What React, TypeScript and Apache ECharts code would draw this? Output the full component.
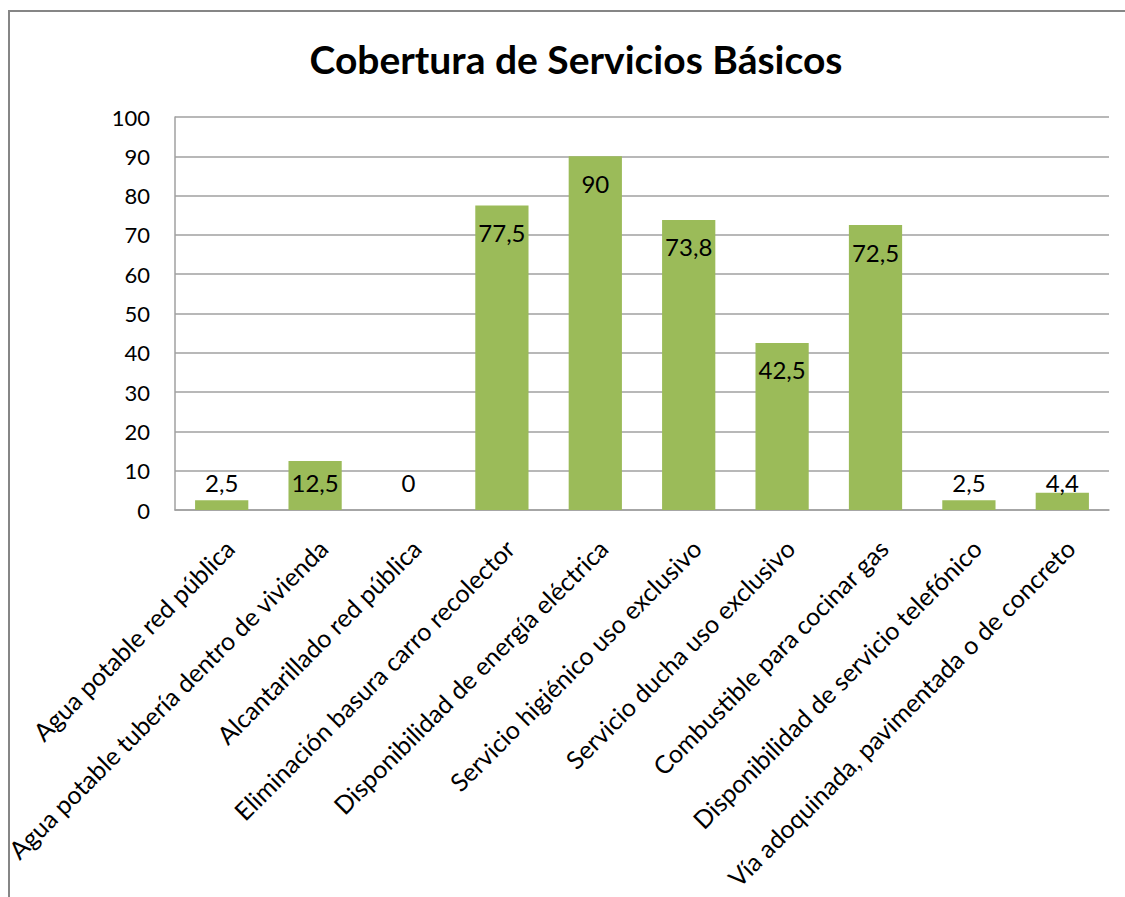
import React, { useEffect, useRef } from "react";
import * as echarts from "echarts";

const title = "Cobertura de Servicios Básicos";
const categories = [
  "Agua potable red pública",
  "Agua potable tubería dentro de vivienda",
  "Alcantarillado red pública",
  "Eliminación basura carro recolector",
  "Disponibilidad de energía eléctrica",
  "Servicio higiénico uso exclusivo",
  "Servicio ducha uso exclusivo",
  "Combustible para cocinar gas",
  "Disponibilidad de servicio telefónico",
  "Vía adoquinada, pavimentada o de concreto",
];
const values = [2.5, 12.5, 0, 77.5, 90, 73.8, 42.5, 72.5, 2.5, 4.4];
const yMin = 0;
const yMax = 100;
const yInterval = 10;

const FONT = "Lato, 'Open Sans', sans-serif";

export default function App() {
  const ref = useRef<HTMLDivElement>(null);
  useEffect(() => {
    if (!ref.current) return;
    const chart = echarts.init(ref.current, undefined, { renderer: "svg" });
    const fmt = (v: number) => String(v).replace(".", ",");
    chart.setOption({
      animation: false,
      backgroundColor: "#ffffff",
      textStyle: { fontFamily: FONT },
      title: {
        text: title,
        left: 571,
        top: 34,
        textAlign: "center",
        textStyle: { fontFamily: FONT, fontWeight: "bold", fontSize: 39, color: "#000" },
      },
      graphic: [
        {
          type: "rect",
          shape: { x: 9, y: 11, width: 1300, height: 1000 },
          style: { fill: "none", stroke: "#868686", lineWidth: 2 },
          silent: true,
        },
      ],
      grid: { left: 175, right: 16, top: 117, bottom: 387 },
      xAxis: {
        type: "category",
        data: categories,
        axisLine: { show: true, lineStyle: { color: "#a0a0a0", width: 1.5 } },
        axisTick: { show: false },
        axisLabel: {
          interval: 0,
          rotate: 45,
          margin: 26,
          verticalAlign: "top",
          lineHeight: 22,
          fontSize: 25,
          fontFamily: FONT,
          color: "#000",
        },
      },
      yAxis: {
        type: "value",
        min: yMin,
        max: yMax,
        interval: yInterval,
        axisLine: { show: true, lineStyle: { color: "#a0a0a0", width: 1.5 } },
        axisTick: { show: false },
        axisLabel: { fontSize: 22, fontFamily: FONT, color: "#000", margin: 25 },
        splitLine: { lineStyle: { color: "#a0a0a0", width: 1.5 } },
      },
      series: [
        {
          type: "bar",
          data: values.map((v) => ({
            value: v,
            label:
              v > 20
                ? { position: "insideTop", distance: 15 }
                : { position: "insideBottom", distance: 16 },
          })),
          barWidth: "57%",
          itemStyle: { color: "#9BBB59" },
          label: {
            show: true,
            fontSize: 24,
            fontFamily: FONT,
            color: "#000",
            formatter: (p: any) => fmt(p.value),
          },
        },
      ],
    });
    return () => chart.dispose();
  }, []);
  return (
    <div
      ref={ref}
      style={{ position: "fixed", left: 0, top: 0, width: 1125, height: 897 }}
    />
  );
}
